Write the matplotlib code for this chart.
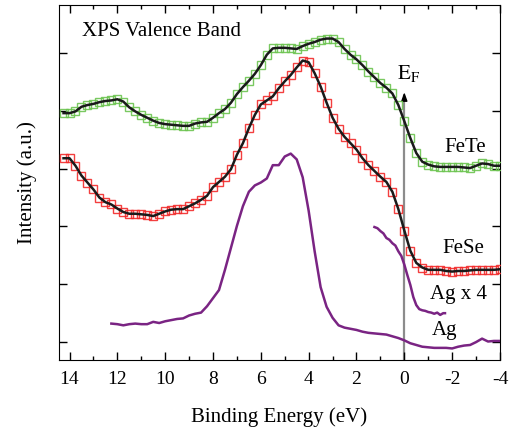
import numpy as np
import matplotlib
matplotlib.use('Agg')
import matplotlib.pyplot as plt
from matplotlib.ticker import MultipleLocator

plt.rcParams['font.family'] = ['Liberation Serif', 'DejaVu Serif']
plt.rcParams['mathtext.fontset'] = 'stix'

# Binding energy grid (eV) shared by the spectra
energy = np.arange(14.25, -4.01, -0.25)

fete = [3.96, 3.96, 3.99, 4.07, 4.10, 4.12, 4.15, 4.17, 4.18, 4.20,
        4.16, 4.06, 3.99, 3.93, 3.88, 3.83, 3.79, 3.77, 3.76, 3.75,
        3.74, 3.74, 3.78, 3.80, 3.81, 3.88, 3.96, 4.03, 4.14, 4.29,
        4.41, 4.52, 4.64, 4.79, 4.97, 5.08, 5.09, 5.09, 5.08, 5.07,
        5.12, 5.16, 5.19, 5.23, 5.25, 5.25, 5.19, 5.07, 4.97, 4.89,
        4.79, 4.68, 4.58, 4.48, 4.40, 4.30, 4.10, 3.82, 3.53, 3.27,
        3.12, 3.07, 3.04, 3.03, 3.03, 3.03, 3.03, 3.02, 3.01, 3.05,
        3.09, 3.08, 3.05, 3.05]

fese = [3.18, 3.18, 3.05, 2.88, 2.76, 2.64, 2.50, 2.42, 2.38, 2.31,
        2.25, 2.22, 2.22, 2.21, 2.20, 2.18, 2.22, 2.26, 2.29, 2.30,
        2.30, 2.35, 2.40, 2.46, 2.53, 2.68, 2.77, 2.86, 2.99, 3.24,
        3.44, 3.70, 3.93, 4.11, 4.18, 4.25, 4.39, 4.51, 4.62, 4.75,
        4.87, 4.84, 4.65, 4.42, 4.14, 3.88, 3.69, 3.55, 3.44, 3.33,
        3.18, 3.06, 2.96, 2.86, 2.77, 2.60, 2.30, 1.93, 1.58, 1.37,
        1.29, 1.25, 1.25, 1.25, 1.23, 1.22, 1.23, 1.23, 1.24, 1.25,
        1.25, 1.25, 1.25, 1.26]

# Ag reference starts at 12.25 eV
ag_energy = energy[8:]
ag = [0.32, 0.31, 0.29, 0.31, 0.32, 0.31, 0.31, 0.35, 0.33, 0.36,
      0.38, 0.40, 0.41, 0.46, 0.49, 0.51, 0.62, 0.76, 0.90, 1.25,
      1.63, 2.01, 2.35, 2.60, 2.71, 2.76, 2.83, 3.06, 3.06, 3.21,
      3.26, 3.16, 2.85, 2.27, 1.57, 0.95, 0.61, 0.42, 0.29, 0.25,
      0.23, 0.21, 0.18, 0.16, 0.15, 0.14, 0.13, 0.10, 0.07, 0.03,
      -0.02, -0.05, -0.08, -0.09, -0.10, -0.10, -0.10, -0.11, -0.08, -0.06,
      -0.05, 0.00, 0.06, 0.01, 0.02, 0.02]

# Ag near the Fermi edge, scaled x4
ag4_energy = [1.25, 1.125, 1.0, 0.875, 0.75, 0.625, 0.5, 0.375, 0.25, 0.125,
              0.0, -0.125, -0.25, -0.375, -0.5, -0.625, -0.75, -0.875, -1.0,
              -1.125, -1.25, -1.375, -1.5, -1.625, -1.7]
ag4 = [1.99, 1.97, 1.92, 1.88, 1.80, 1.77, 1.71, 1.67, 1.57, 1.49,
       1.34, 1.16, 0.99, 0.78, 0.64, 0.57, 0.55, 0.54, 0.52,
       0.51, 0.49, 0.51, 0.47, 0.50, 0.50]

purple = '#7a2483'

fig = plt.figure(figsize=(5.17, 4.29), dpi=100)
ax = fig.add_axes([0.1141, 0.1608, 0.853, 0.8275])

# EF marker
ax.plot([0, 0], [-0.31, 4.25], color='#8c8c8c', lw=1.6, zorder=1)
ax.annotate('', xy=(0, 4.37), xytext=(0, 4.15),
            arrowprops=dict(arrowstyle='-|>,head_width=0.18,head_length=0.5',
                            color='black', lw=1.0), zorder=2)

# FeTe
ax.plot(energy, fete, ls='none', marker='s', ms=5.8, mfc='none',
        mec='#6cc450', mew=1.0, alpha=0.9, zorder=3)
ax.plot(energy, fete, color='#1a1a1a', lw=1.8, zorder=4)

# FeSe
ax.plot(energy, fese, ls='none', marker='s', ms=5.5, mfc='none',
        mec='#f22a2a', mew=1.0, alpha=0.9, zorder=3)
ax.plot(energy, fese, color='#1a1a1a', lw=1.8, zorder=4)

# Ag
ax.plot(ag_energy, ag, color=purple, lw=1.8, zorder=3)
ax.plot(ag4_energy, ag4, color=purple, lw=1.8, zorder=3)

ax.set_xlim(14.44, -4.0)
ax.set_ylim(-0.31, 5.83)

ax.xaxis.set_major_locator(MultipleLocator(2))
ax.xaxis.set_minor_locator(MultipleLocator(1))
ax.yaxis.set_major_locator(MultipleLocator(1))
ax.tick_params(axis='both', which='both', direction='in', top=True, right=True)
ax.tick_params(axis='x', which='major', length=6, width=1, labelsize=14, pad=8)
ax.tick_params(axis='x', which='minor', length=3, width=1)
ax.tick_params(axis='y', which='major', length=6, width=1, labelleft=False)
ax.set_xticks(ax.get_xticks())
ax.set_xticklabels([f'{int(t)}' for t in ax.get_xticks()])
ax.set_xlim(14.44, -4.0)

ax.set_xlabel('Binding Energy (eV)', fontsize=15, labelpad=14)
ax.set_ylabel('Intensity (a.u.)', fontsize=15, labelpad=16)

ax.text(13.48, 5.29, 'XPS Valence Band', fontsize=15)
ax.text(0.31, 4.55, r'$\mathrm{E_F}$', fontsize=15)
ax.text(-2.53, 3.29, 'FeTe', fontsize=15, ha='center')
ax.text(-2.47, 1.54, 'FeSe', fontsize=15, ha='center')
ax.text(-2.26, 0.744, 'Ag x 4', fontsize=15, ha='center')
ax.text(-1.68, 0.121, 'Ag', fontsize=15, ha='center')

fig.savefig('out.png', dpi=100)
